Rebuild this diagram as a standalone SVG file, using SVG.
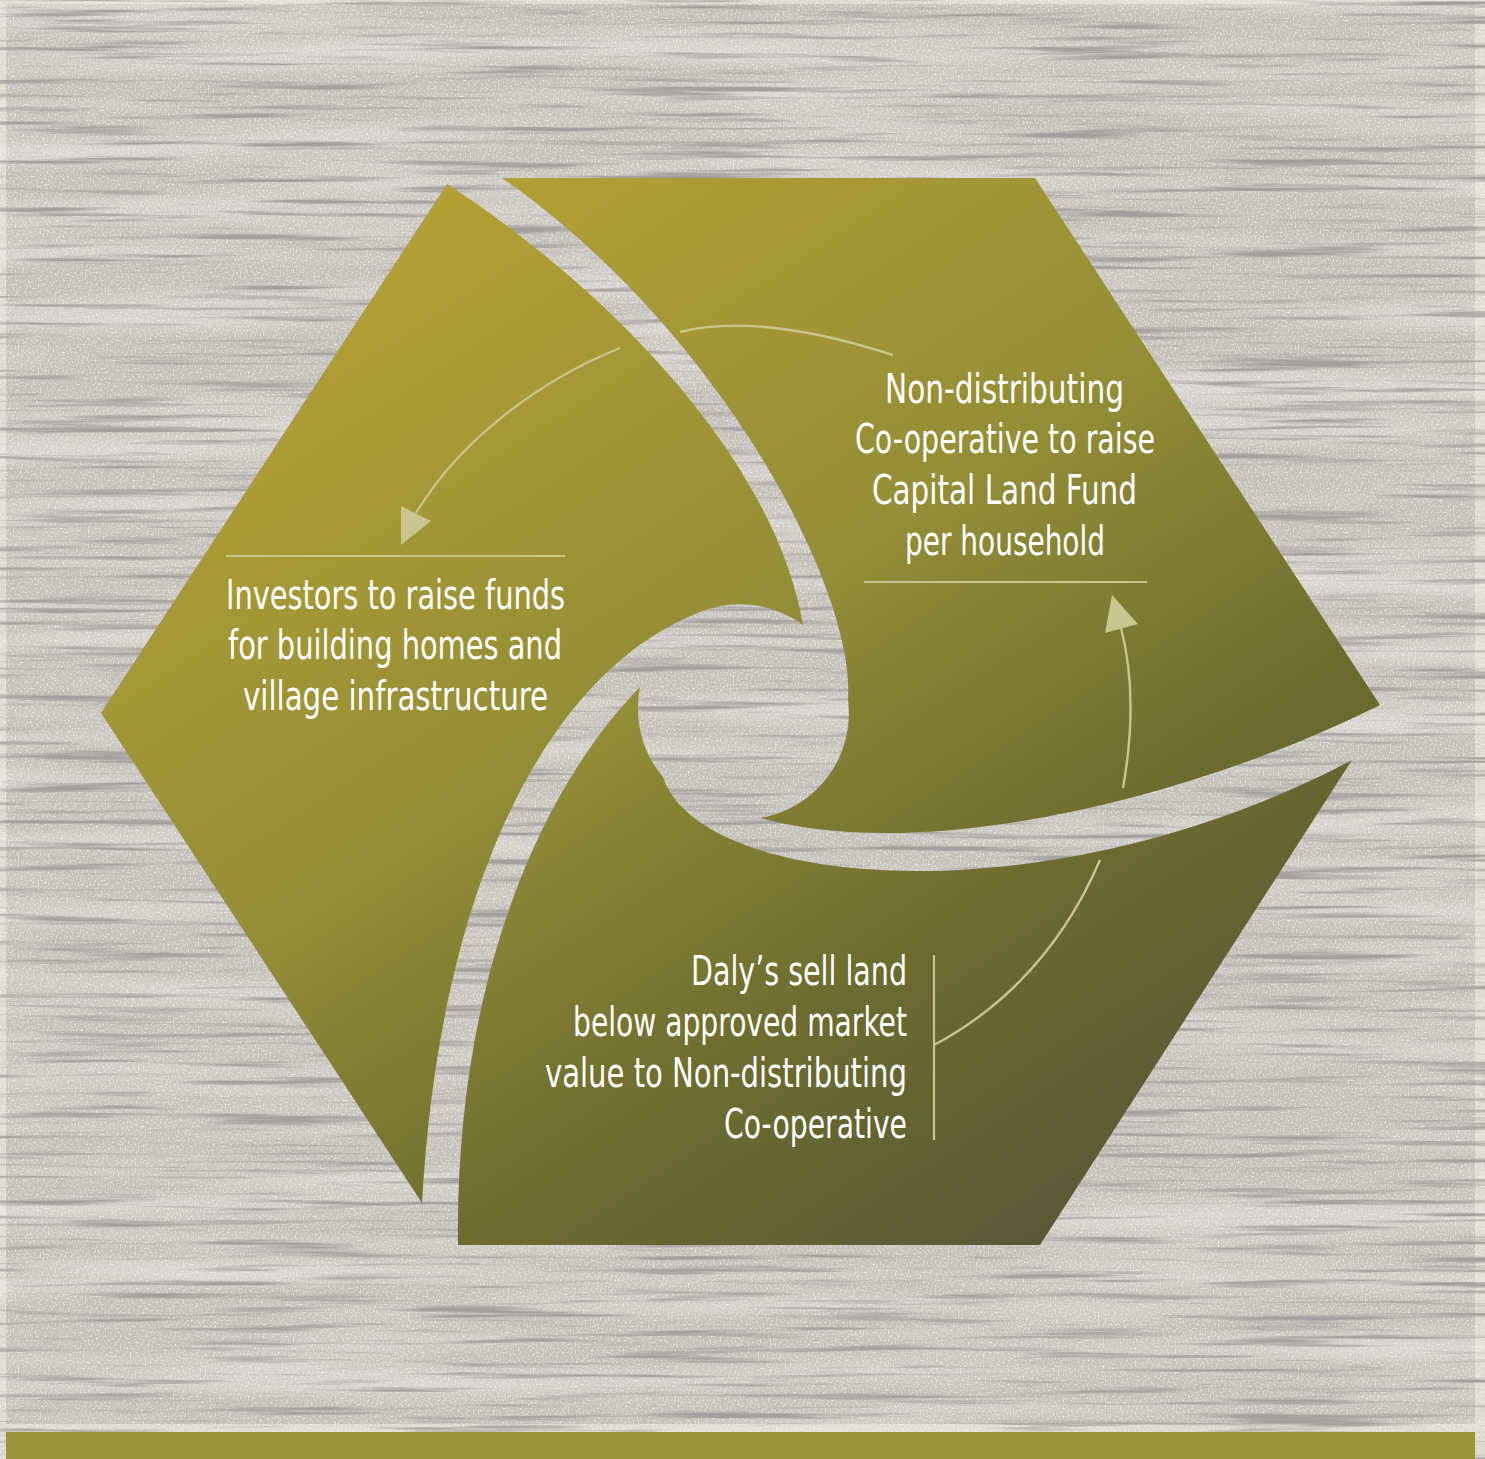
<svg xmlns="http://www.w3.org/2000/svg" width="1485" height="1459" viewBox="0 0 1485 1459">
<defs>
<linearGradient id="olive" gradientUnits="userSpaceOnUse" x1="450" y1="180" x2="1150" y2="1250">
<stop offset="0" stop-color="#b4a034"/>
<stop offset="0.42" stop-color="#938d37"/>
<stop offset="0.7" stop-color="#6c6c2f"/>
<stop offset="1" stop-color="#55553a"/>
</linearGradient>
<filter id="grain" x="0" y="0" width="100%" height="100%" filterUnits="userSpaceOnUse">
<feTurbulence type="fractalNoise" baseFrequency="0.005 0.15" numOctaves="4" seed="7" result="n"/>
<feColorMatrix in="n" type="matrix" values="0 0 0 0 0.36  0 0 0 0 0.35  0 0 0 0 0.34  4.2 0 0 0 -2.25"/>
</filter>
<filter id="tone" x="0" y="0" width="100%" height="100%" filterUnits="userSpaceOnUse">
<feTurbulence type="fractalNoise" baseFrequency="0.002 0.03" numOctaves="2" seed="11" result="t"/>
<feColorMatrix in="t" type="matrix" values="0 0 0 0 0.90  0 0 0 0 0.89  0 0 0 0 0.86  1.1 0 0 0 -0.45"/>
</filter>
<filter id="speck" x="0" y="0" width="100%" height="100%" filterUnits="userSpaceOnUse">
<feTurbulence type="fractalNoise" baseFrequency="0.6 0.5" numOctaves="1" seed="3" result="s"/>
<feColorMatrix in="s" type="matrix" values="0 0 0 0 0.95  0 0 0 0 0.94  0 0 0 0 0.92  2.2 0 0 0 -1.05"/>
</filter>
</defs>
<style>
.blade{fill:url(#olive);}
.lbl{font-family:'Liberation Sans Narrow','DejaVu Sans Condensed','Liberation Sans',sans-serif;font-size:40px;fill:#ffffff;}
.rule{stroke:#c9c58f;stroke-width:2.2;fill:none;}
.arc{stroke:#c9c58f;stroke-width:2.4;fill:none;}
.head{fill:#c9c58f;}
</style>
<rect x="0" y="0" width="1485" height="1459" fill="#dcd8cf"/>
<rect x="6" y="4" width="1469" height="1420" fill="#c4c0ba"/>
<rect x="6" y="4" width="1469" height="1420" filter="url(#tone)"/>
<rect x="6" y="4" width="1469" height="1420" filter="url(#speck)"/>
<rect x="6" y="4" width="1469" height="1420" filter="url(#grain)"/>
<rect x="6" y="1432" width="1469" height="27" fill="#99953a"/>

<g id="node-investors">
<path class="blade" d="M447,184 C610,290 775,460 803,625 A106 106 0 0 0 700,612 C550,670 440,880 422,1203 L101,713 Z"/>
<line class="rule" x1="226" y1="556" x2="565" y2="556"/>
<text class="lbl" x="226" y="609" textLength="339" lengthAdjust="spacingAndGlyphs">Investors to raise funds</text>
<text class="lbl" x="228" y="659" textLength="334" lengthAdjust="spacingAndGlyphs">for building homes and</text>
<text class="lbl" x="243" y="710" textLength="305" lengthAdjust="spacingAndGlyphs">village infrastructure</text>
</g>

<g id="node-coop">
<path class="blade" d="M502,178 L1035,178 L1380,705 C1200,795 930,865 760,818 A106 106 0 0 0 848,700 C856,590 720,330 502,178 Z"/>
<line class="rule" x1="864" y1="582" x2="1147" y2="582"/>
<text class="lbl" x="885" y="403" textLength="239" lengthAdjust="spacingAndGlyphs">Non-distributing</text>
<text class="lbl" x="855" y="453" textLength="300" lengthAdjust="spacingAndGlyphs">Co-operative to raise</text>
<text class="lbl" x="872" y="504" textLength="265" lengthAdjust="spacingAndGlyphs">Capital Land Fund</text>
<text class="lbl" x="905" y="555" textLength="200" lengthAdjust="spacingAndGlyphs">per household</text>
</g>

<g id="node-dalys">
<path class="blade" d="M1352,760 L1040,1245 L458,1245 C455,1000 530,800 640,687 A106 106 0 0 0 663,777 C700,890 1050,920 1352,760 Z"/>
<line class="rule" x1="934" y1="955" x2="934" y2="1140"/>
<text class="lbl" x="691" y="985" textLength="216" lengthAdjust="spacingAndGlyphs">Daly’s sell land</text>
<text class="lbl" x="573" y="1036" textLength="334" lengthAdjust="spacingAndGlyphs">below approved market</text>
<text class="lbl" x="545" y="1087" textLength="362" lengthAdjust="spacingAndGlyphs">value to Non-distributing</text>
<text class="lbl" x="724" y="1138" textLength="183" lengthAdjust="spacingAndGlyphs">Co-operative</text>
</g>

<g id="connectors">
<path class="arc" d="M620,348 C540,380 460,440 416,513"/>
<polygon class="head" points="401,506 431,521 401,545"/>
<path class="arc" d="M680,332 Q760,312 893,355"/>
<path class="arc" d="M1123,788 C1135,720 1132,670 1121,628"/>
<polygon class="head" points="1112,595 1138,624 1105,633"/>
<path class="arc" d="M934,1045 C985,1018 1055,965 1100,860"/>
</g>
</svg>
